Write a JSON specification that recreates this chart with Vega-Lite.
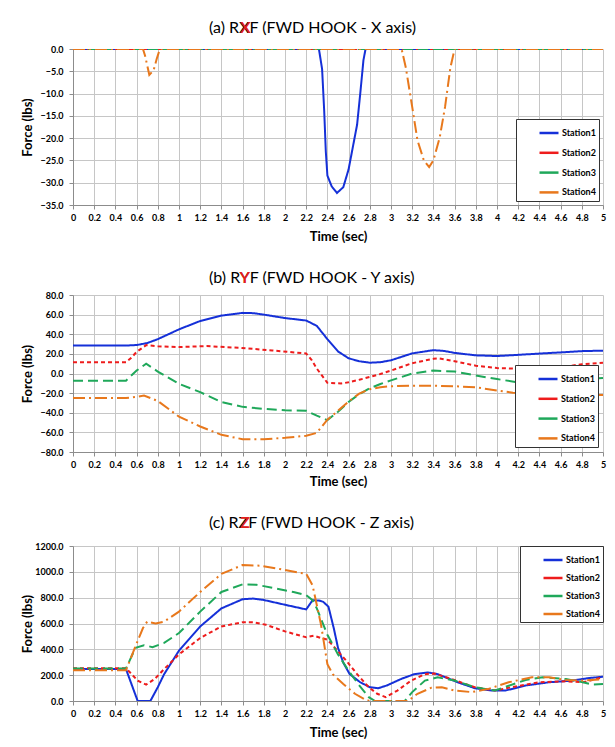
{
  "$schema": "https://vega.github.io/schema/vega-lite/v6.json",
  "background": "white",
  "padding": {"top": 20, "left": 21, "right": 4, "bottom": 0},
  "spacing": 27,
  "config": {
    "font": "Lato",
    "view": {"stroke": null},
    "title": {"font": "Lato", "fontSize": 16, "fontWeight": "normal", "color": "#000", "offset": 9, "anchor": "start", "frame": "bounds", "dx": 188,
              "subtitleColor": "#e3201b", "subtitleFont": "Lato", "subtitleFontSize": 16, "subtitleFontWeight": "bold", "subtitlePadding": -16},
    "axis": {
      "gridColor": "#c6c6c6", "gridWidth": 1, "domainColor": "#8c8c8c", "tickColor": "#8c8c8c", "tickSize": 4,
      "labelFont": "Lato", "labelFontSize": 9, "labelFontWeight": "bold", "labelColor": "#000",
      "titleFont": "Lato", "titleFontSize": 13, "titleFontWeight": "bold", "titleColor": "#000"
    },
    "legend": {
      "strokeColor": "#333", "fillColor": "white", "padding": 3,
      "symbolType": "stroke", "symbolSize": 361, "symbolStrokeWidth": 2.5,
      "labelFont": "Lato", "labelFontSize": 9, "labelFontWeight": "bold", "labelColor": "#000",
      "rowPadding": 3.8, "labelOffset": 2,
      "titleOrient": "left", "titleFontSize": 12, "titlePadding": 1, "titleFont": "Lato"
    }
  },
  "datasets": {
    "rxf": [
      {"s": "Station1", "t": 0, "f": 0}, {"s": "Station1", "t": 2.32, "f": 0}, {"s": "Station1", "t": 2.35, "f": -4.5}, {"s": "Station1", "t": 2.37, "f": -14}, {"s": "Station1", "t": 2.385, "f": -23}, {"s": "Station1", "t": 2.4, "f": -28.4}, {"s": "Station1", "t": 2.44, "f": -30.8}, {"s": "Station1", "t": 2.49, "f": -32.3}, {"s": "Station1", "t": 2.55, "f": -31}, {"s": "Station1", "t": 2.6, "f": -27}, {"s": "Station1", "t": 2.64, "f": -22}, {"s": "Station1", "t": 2.68, "f": -17}, {"s": "Station1", "t": 2.71, "f": -10}, {"s": "Station1", "t": 2.74, "f": -2.5}, {"s": "Station1", "t": 2.76, "f": 0}, {"s": "Station1", "t": 5, "f": 0},
      {"s": "Station2", "t": 0, "f": 0}, {"s": "Station2", "t": 5, "f": 0},
      {"s": "Station3", "t": 0, "f": 0}, {"s": "Station3", "t": 5, "f": 0},
      {"s": "Station4", "t": 0, "f": 0}, {"s": "Station4", "t": 0.66, "f": 0}, {"s": "Station4", "t": 0.68, "f": -1.5}, {"s": "Station4", "t": 0.72, "f": -5.8}, {"s": "Station4", "t": 0.76, "f": -4.8}, {"s": "Station4", "t": 0.79, "f": -2.2}, {"s": "Station4", "t": 0.82, "f": 0}, {"s": "Station4", "t": 3.1, "f": 0}, {"s": "Station4", "t": 3.14, "f": -4.2}, {"s": "Station4", "t": 3.2, "f": -13}, {"s": "Station4", "t": 3.25, "f": -20.5}, {"s": "Station4", "t": 3.31, "f": -25}, {"s": "Station4", "t": 3.36, "f": -26.5}, {"s": "Station4", "t": 3.4, "f": -25}, {"s": "Station4", "t": 3.46, "f": -19.8}, {"s": "Station4", "t": 3.51, "f": -13}, {"s": "Station4", "t": 3.56, "f": -4.2}, {"s": "Station4", "t": 3.6, "f": 0}, {"s": "Station4", "t": 5, "f": 0}
    ],
    "ryf": [
      {"s": "Station1", "t": 0, "f": 28.5}, {"s": "Station1", "t": 0.5, "f": 28.5}, {"s": "Station1", "t": 0.6, "f": 29}, {"s": "Station1", "t": 0.7, "f": 31}, {"s": "Station1", "t": 0.8, "f": 35}, {"s": "Station1", "t": 1.0, "f": 45}, {"s": "Station1", "t": 1.2, "f": 53.5}, {"s": "Station1", "t": 1.4, "f": 59}, {"s": "Station1", "t": 1.6, "f": 61.8}, {"s": "Station1", "t": 1.7, "f": 61.5}, {"s": "Station1", "t": 1.8, "f": 60}, {"s": "Station1", "t": 2.0, "f": 56.5}, {"s": "Station1", "t": 2.2, "f": 54}, {"s": "Station1", "t": 2.3, "f": 48.5}, {"s": "Station1", "t": 2.4, "f": 35}, {"s": "Station1", "t": 2.5, "f": 22.5}, {"s": "Station1", "t": 2.6, "f": 15.5}, {"s": "Station1", "t": 2.7, "f": 12.5}, {"s": "Station1", "t": 2.8, "f": 11}, {"s": "Station1", "t": 2.9, "f": 11.5}, {"s": "Station1", "t": 3.0, "f": 13.5}, {"s": "Station1", "t": 3.2, "f": 20.5}, {"s": "Station1", "t": 3.4, "f": 23.8}, {"s": "Station1", "t": 3.5, "f": 23}, {"s": "Station1", "t": 3.6, "f": 21}, {"s": "Station1", "t": 3.8, "f": 18.5}, {"s": "Station1", "t": 4.0, "f": 17.8}, {"s": "Station1", "t": 4.2, "f": 19}, {"s": "Station1", "t": 4.4, "f": 20.3}, {"s": "Station1", "t": 4.6, "f": 21.5}, {"s": "Station1", "t": 4.8, "f": 22.8}, {"s": "Station1", "t": 5.0, "f": 23.3},
      {"s": "Station2", "t": 0, "f": 11.5}, {"s": "Station2", "t": 0.5, "f": 11.5}, {"s": "Station2", "t": 0.55, "f": 16}, {"s": "Station2", "t": 0.6, "f": 22}, {"s": "Station2", "t": 0.69, "f": 28.9}, {"s": "Station2", "t": 0.8, "f": 27.8}, {"s": "Station2", "t": 1.0, "f": 26.9}, {"s": "Station2", "t": 1.26, "f": 27.9}, {"s": "Station2", "t": 1.57, "f": 26.2}, {"s": "Station2", "t": 1.88, "f": 23.5}, {"s": "Station2", "t": 2.2, "f": 20.4}, {"s": "Station2", "t": 2.25, "f": 14}, {"s": "Station2", "t": 2.3, "f": 5}, {"s": "Station2", "t": 2.4, "f": -9.5}, {"s": "Station2", "t": 2.53, "f": -10.2}, {"s": "Station2", "t": 2.6, "f": -9}, {"s": "Station2", "t": 2.71, "f": -6.1}, {"s": "Station2", "t": 2.8, "f": -3.5}, {"s": "Station2", "t": 2.9, "f": -0.5}, {"s": "Station2", "t": 3.0, "f": 3}, {"s": "Station2", "t": 3.2, "f": 10.5}, {"s": "Station2", "t": 3.4, "f": 15}, {"s": "Station2", "t": 3.45, "f": 15.4}, {"s": "Station2", "t": 3.6, "f": 12.5}, {"s": "Station2", "t": 3.8, "f": 8}, {"s": "Station2", "t": 4.0, "f": 5.5}, {"s": "Station2", "t": 4.2, "f": 5}, {"s": "Station2", "t": 4.4, "f": 5}, {"s": "Station2", "t": 4.6, "f": 6.5}, {"s": "Station2", "t": 4.8, "f": 9.4}, {"s": "Station2", "t": 5.0, "f": 11},
      {"s": "Station3", "t": 0, "f": -7.3}, {"s": "Station3", "t": 0.5, "f": -7.3}, {"s": "Station3", "t": 0.6, "f": 3}, {"s": "Station3", "t": 0.69, "f": 9.9}, {"s": "Station3", "t": 0.8, "f": 2}, {"s": "Station3", "t": 1.0, "f": -10.5}, {"s": "Station3", "t": 1.2, "f": -19}, {"s": "Station3", "t": 1.4, "f": -29}, {"s": "Station3", "t": 1.6, "f": -34}, {"s": "Station3", "t": 1.8, "f": -36}, {"s": "Station3", "t": 2.0, "f": -37.5}, {"s": "Station3", "t": 2.2, "f": -38}, {"s": "Station3", "t": 2.3, "f": -43}, {"s": "Station3", "t": 2.4, "f": -47.5}, {"s": "Station3", "t": 2.5, "f": -39}, {"s": "Station3", "t": 2.6, "f": -29}, {"s": "Station3", "t": 2.7, "f": -21}, {"s": "Station3", "t": 2.8, "f": -15}, {"s": "Station3", "t": 2.9, "f": -10.7}, {"s": "Station3", "t": 3.0, "f": -7}, {"s": "Station3", "t": 3.2, "f": 0}, {"s": "Station3", "t": 3.4, "f": 3}, {"s": "Station3", "t": 3.6, "f": 2}, {"s": "Station3", "t": 3.8, "f": -2}, {"s": "Station3", "t": 4.0, "f": -5.7}, {"s": "Station3", "t": 4.2, "f": -9}, {"s": "Station3", "t": 4.4, "f": -10}, {"s": "Station3", "t": 4.6, "f": -9}, {"s": "Station3", "t": 4.8, "f": -6}, {"s": "Station3", "t": 5.0, "f": -4.5},
      {"s": "Station4", "t": 0, "f": -25}, {"s": "Station4", "t": 0.5, "f": -25}, {"s": "Station4", "t": 0.6, "f": -23.8}, {"s": "Station4", "t": 0.67, "f": -22.4}, {"s": "Station4", "t": 0.8, "f": -28}, {"s": "Station4", "t": 1.0, "f": -44}, {"s": "Station4", "t": 1.2, "f": -54}, {"s": "Station4", "t": 1.4, "f": -62.5}, {"s": "Station4", "t": 1.6, "f": -67}, {"s": "Station4", "t": 1.8, "f": -67}, {"s": "Station4", "t": 2.0, "f": -65.5}, {"s": "Station4", "t": 2.2, "f": -63.5}, {"s": "Station4", "t": 2.3, "f": -60.5}, {"s": "Station4", "t": 2.4, "f": -47}, {"s": "Station4", "t": 2.5, "f": -38}, {"s": "Station4", "t": 2.6, "f": -28.5}, {"s": "Station4", "t": 2.7, "f": -20.5}, {"s": "Station4", "t": 2.8, "f": -16}, {"s": "Station4", "t": 2.9, "f": -14}, {"s": "Station4", "t": 3.0, "f": -13}, {"s": "Station4", "t": 3.2, "f": -12.5}, {"s": "Station4", "t": 3.4, "f": -12.5}, {"s": "Station4", "t": 3.6, "f": -13}, {"s": "Station4", "t": 3.8, "f": -14}, {"s": "Station4", "t": 4.0, "f": -17.4}, {"s": "Station4", "t": 4.15, "f": -19.5}, {"s": "Station4", "t": 4.4, "f": -21}, {"s": "Station4", "t": 4.6, "f": -22}, {"s": "Station4", "t": 4.8, "f": -22}, {"s": "Station4", "t": 5.0, "f": -22}
    ],
    "rzf": [
      {"s": "Station1", "t": 0, "f": 247}, {"s": "Station1", "t": 0.5, "f": 247}, {"s": "Station1", "t": 0.61, "f": 0}, {"s": "Station1", "t": 0.73, "f": 0}, {"s": "Station1", "t": 0.8, "f": 107}, {"s": "Station1", "t": 0.86, "f": 208}, {"s": "Station1", "t": 1.0, "f": 390}, {"s": "Station1", "t": 1.2, "f": 577}, {"s": "Station1", "t": 1.4, "f": 717}, {"s": "Station1", "t": 1.6, "f": 788}, {"s": "Station1", "t": 1.7, "f": 793}, {"s": "Station1", "t": 1.8, "f": 782}, {"s": "Station1", "t": 2.0, "f": 745}, {"s": "Station1", "t": 2.2, "f": 709}, {"s": "Station1", "t": 2.26, "f": 780}, {"s": "Station1", "t": 2.32, "f": 778}, {"s": "Station1", "t": 2.36, "f": 768}, {"s": "Station1", "t": 2.41, "f": 730}, {"s": "Station1", "t": 2.46, "f": 564}, {"s": "Station1", "t": 2.5, "f": 412}, {"s": "Station1", "t": 2.55, "f": 297}, {"s": "Station1", "t": 2.61, "f": 208}, {"s": "Station1", "t": 2.71, "f": 145}, {"s": "Station1", "t": 2.8, "f": 107}, {"s": "Station1", "t": 2.88, "f": 99}, {"s": "Station1", "t": 2.96, "f": 120}, {"s": "Station1", "t": 3.1, "f": 172}, {"s": "Station1", "t": 3.22, "f": 208}, {"s": "Station1", "t": 3.35, "f": 221}, {"s": "Station1", "t": 3.44, "f": 208}, {"s": "Station1", "t": 3.63, "f": 145}, {"s": "Station1", "t": 3.79, "f": 99}, {"s": "Station1", "t": 3.95, "f": 81}, {"s": "Station1", "t": 4.08, "f": 81}, {"s": "Station1", "t": 4.27, "f": 120}, {"s": "Station1", "t": 4.49, "f": 145}, {"s": "Station1", "t": 4.71, "f": 158}, {"s": "Station1", "t": 4.87, "f": 178}, {"s": "Station1", "t": 5.0, "f": 188},
      {"s": "Station2", "t": 0, "f": 254}, {"s": "Station2", "t": 0.5, "f": 254}, {"s": "Station2", "t": 0.61, "f": 158}, {"s": "Station2", "t": 0.69, "f": 127}, {"s": "Station2", "t": 0.77, "f": 170}, {"s": "Station2", "t": 0.86, "f": 247}, {"s": "Station2", "t": 1.0, "f": 361}, {"s": "Station2", "t": 1.2, "f": 488}, {"s": "Station2", "t": 1.4, "f": 577}, {"s": "Station2", "t": 1.6, "f": 610}, {"s": "Station2", "t": 1.7, "f": 610}, {"s": "Station2", "t": 1.82, "f": 590}, {"s": "Station2", "t": 2.0, "f": 539}, {"s": "Station2", "t": 2.2, "f": 493}, {"s": "Station2", "t": 2.27, "f": 506}, {"s": "Station2", "t": 2.34, "f": 488}, {"s": "Station2", "t": 2.4, "f": 475}, {"s": "Station2", "t": 2.5, "f": 386}, {"s": "Station2", "t": 2.58, "f": 310}, {"s": "Station2", "t": 2.68, "f": 208}, {"s": "Station2", "t": 2.79, "f": 107}, {"s": "Station2", "t": 2.87, "f": 56}, {"s": "Station2", "t": 2.95, "f": 30}, {"s": "Station2", "t": 3.06, "f": 81}, {"s": "Station2", "t": 3.19, "f": 158}, {"s": "Station2", "t": 3.32, "f": 208}, {"s": "Station2", "t": 3.41, "f": 213}, {"s": "Station2", "t": 3.57, "f": 170}, {"s": "Station2", "t": 3.79, "f": 107}, {"s": "Station2", "t": 3.98, "f": 81}, {"s": "Station2", "t": 4.14, "f": 107}, {"s": "Station2", "t": 4.4, "f": 145}, {"s": "Station2", "t": 4.65, "f": 153}, {"s": "Station2", "t": 4.81, "f": 145}, {"s": "Station2", "t": 5.0, "f": 183},
      {"s": "Station3", "t": 0, "f": 252}, {"s": "Station3", "t": 0.5, "f": 252}, {"s": "Station3", "t": 0.59, "f": 412}, {"s": "Station3", "t": 0.67, "f": 432}, {"s": "Station3", "t": 0.75, "f": 417}, {"s": "Station3", "t": 0.86, "f": 450}, {"s": "Station3", "t": 1.0, "f": 526}, {"s": "Station3", "t": 1.2, "f": 692}, {"s": "Station3", "t": 1.4, "f": 844}, {"s": "Station3", "t": 1.6, "f": 903}, {"s": "Station3", "t": 1.73, "f": 900}, {"s": "Station3", "t": 1.89, "f": 875}, {"s": "Station3", "t": 2.08, "f": 844}, {"s": "Station3", "t": 2.2, "f": 819}, {"s": "Station3", "t": 2.26, "f": 780}, {"s": "Station3", "t": 2.3, "f": 717}, {"s": "Station3", "t": 2.4, "f": 513}, {"s": "Station3", "t": 2.5, "f": 361}, {"s": "Station3", "t": 2.6, "f": 234}, {"s": "Station3", "t": 2.69, "f": 132}, {"s": "Station3", "t": 2.79, "f": 30}, {"s": "Station3", "t": 2.85, "f": 0}, {"s": "Station3", "t": 3.13, "f": 0}, {"s": "Station3", "t": 3.2, "f": 69}, {"s": "Station3", "t": 3.32, "f": 158}, {"s": "Station3", "t": 3.44, "f": 183}, {"s": "Station3", "t": 3.6, "f": 158}, {"s": "Station3", "t": 3.79, "f": 107}, {"s": "Station3", "t": 3.98, "f": 81}, {"s": "Station3", "t": 4.07, "f": 107}, {"s": "Station3", "t": 4.27, "f": 163}, {"s": "Station3", "t": 4.43, "f": 183}, {"s": "Station3", "t": 4.65, "f": 170}, {"s": "Station3", "t": 4.81, "f": 145}, {"s": "Station3", "t": 4.9, "f": 127}, {"s": "Station3", "t": 5.0, "f": 132},
      {"s": "Station4", "t": 0, "f": 239}, {"s": "Station4", "t": 0.5, "f": 239}, {"s": "Station4", "t": 0.59, "f": 425}, {"s": "Station4", "t": 0.66, "f": 565}, {"s": "Station4", "t": 0.7, "f": 615}, {"s": "Station4", "t": 0.78, "f": 600}, {"s": "Station4", "t": 0.86, "f": 615}, {"s": "Station4", "t": 1.0, "f": 692}, {"s": "Station4", "t": 1.2, "f": 844}, {"s": "Station4", "t": 1.4, "f": 984}, {"s": "Station4", "t": 1.6, "f": 1053}, {"s": "Station4", "t": 1.76, "f": 1048}, {"s": "Station4", "t": 1.95, "f": 1022}, {"s": "Station4", "t": 2.14, "f": 992}, {"s": "Station4", "t": 2.2, "f": 984}, {"s": "Station4", "t": 2.26, "f": 895}, {"s": "Station4", "t": 2.34, "f": 590}, {"s": "Station4", "t": 2.4, "f": 285}, {"s": "Station4", "t": 2.45, "f": 208}, {"s": "Station4", "t": 2.55, "f": 132}, {"s": "Station4", "t": 2.66, "f": 56}, {"s": "Station4", "t": 2.77, "f": 5}, {"s": "Station4", "t": 2.83, "f": 0}, {"s": "Station4", "t": 3.16, "f": 0}, {"s": "Station4", "t": 3.25, "f": 56}, {"s": "Station4", "t": 3.38, "f": 102}, {"s": "Station4", "t": 3.48, "f": 107}, {"s": "Station4", "t": 3.6, "f": 81}, {"s": "Station4", "t": 3.76, "f": 69}, {"s": "Station4", "t": 3.92, "f": 94}, {"s": "Station4", "t": 4.11, "f": 145}, {"s": "Station4", "t": 4.33, "f": 183}, {"s": "Station4", "t": 4.49, "f": 183}, {"s": "Station4", "t": 4.65, "f": 163}, {"s": "Station4", "t": 4.81, "f": 158}, {"s": "Station4", "t": 5.0, "f": 168}
    ]
  },
  "vconcat": [
    {
      "title": {"text": "(a) RXF (FWD HOOK - X axis)", "subtitle": "\u2060\u00a0\u00a0\u00a0\u00a0\u00a0\u00a0\u00a0\u00a0X"},
      "width": 530, "height": 156,
      "data": {"name": "rxf"},
      "mark": {"type": "line", "strokeWidth": 2, "clip": true},
      "encoding": {
        "x": {"field": "t", "type": "quantitative", "scale": {"domain": [0, 5], "nice": false},
              "axis": {"title": "Time (sec)", "values": [0,0.2,0.4,0.6,0.8,1,1.2,1.4,1.6,1.8,2,2.2,2.4,2.6,2.8,3,3.2,3.4,3.6,3.8,4,4.2,4.4,4.6,4.8,5], "format": "~g", "labelPadding": 4, "titlePadding": 8, "labelFlush": false}},
        "y": {"field": "f", "type": "quantitative", "scale": {"domain": [-35, 0], "nice": false},
              "axis": {"title": "Force (lbs)", "values": [0,-5,-10,-15,-20,-25,-30,-35], "format": ".1f", "labelPadding": 6, "titleX": -39, "labelFlush": false}},
        "color": {"field": "s", "type": "nominal", "scale": {"domain": ["Station1","Station2","Station3","Station4"], "range": ["#1530d8","#ee1c1c","#1fa85a","#e8781c"]},
                  "legend": {"orient": "bottom-right", "offset": 4, "title": "\u2060\u00a0\u00a0\u00a0\u00a0\u00a0\u00a0\u2060"}},
        "strokeDash": {"field": "s", "type": "nominal", "scale": {"domain": ["Station1","Station2","Station3","Station4"], "range": [[1,0],[4,3],[10,5],[12,4,2,4]]}},
        "order": {"field": "t", "type": "quantitative"}
      }
    },
    {
      "title": {"text": "(b) RYF (FWD HOOK - Y axis)", "subtitle": "\u2060\u00a0\u00a0\u00a0\u00a0\u00a0\u00a0\u00a0\u00a0Y", "offset": 5},
      "width": 530, "height": 157,
      "data": {"name": "ryf"},
      "mark": {"type": "line", "strokeWidth": 2, "clip": true},
      "encoding": {
        "x": {"field": "t", "type": "quantitative", "scale": {"domain": [0, 5], "nice": false},
              "axis": {"title": "Time (sec)", "values": [0,0.2,0.4,0.6,0.8,1,1.2,1.4,1.6,1.8,2,2.2,2.4,2.6,2.8,3,3.2,3.4,3.6,3.8,4,4.2,4.4,4.6,4.8,5], "format": "~g", "labelPadding": 4, "titlePadding": 6, "labelFlush": false}},
        "y": {"field": "f", "type": "quantitative", "scale": {"domain": [-80, 80], "nice": false},
              "axis": {"title": "Force (lbs)", "values": [80,60,40,20,0,-20,-40,-60,-80], "format": ".1f", "labelPadding": 6, "titleX": -39, "labelFlush": false}},
        "color": {"field": "s", "type": "nominal", "scale": {"domain": ["Station1","Station2","Station3","Station4"], "range": ["#1530d8","#ee1c1c","#1fa85a","#e8781c"]},
                  "legend": {"orient": "bottom-right", "offset": 5, "title": "\u2060\u00a0\u00a0\u00a0\u00a0\u00a0\u00a0\u2060"}},
        "strokeDash": {"field": "s", "type": "nominal", "scale": {"domain": ["Station1","Station2","Station3","Station4"], "range": [[1,0],[4,3],[10,5],[12,4,2,4]]}},
        "order": {"field": "t", "type": "quantitative"}
      }
    },
    {
      "title": {"text": "(c) RZF (FWD HOOK - Z axis)", "subtitle": "\u2060\u00a0\u00a0\u00a0\u00a0\u00a0\u00a0\u00a0\u00a0Z", "offset": 11},
      "width": 530, "height": 155,
      "data": {"name": "rzf"},
      "mark": {"type": "line", "strokeWidth": 2, "clip": true},
      "encoding": {
        "x": {"field": "t", "type": "quantitative", "scale": {"domain": [0, 5], "nice": false},
              "axis": {"title": "Time (sec)", "values": [0,0.2,0.4,0.6,0.8,1,1.2,1.4,1.6,1.8,2,2.2,2.4,2.6,2.8,3,3.2,3.4,3.6,3.8,4,4.2,4.4,4.6,4.8,5], "format": "~g", "labelPadding": 4, "titlePadding": 8, "labelFlush": false}},
        "y": {"field": "f", "type": "quantitative", "scale": {"domain": [0, 1200], "nice": false},
              "axis": {"title": "Force (lbs)", "values": [0,200,400,600,800,1000,1200], "format": ".1f", "labelPadding": 6, "titleX": -39, "labelFlush": false}},
        "color": {"field": "s", "type": "nominal", "scale": {"domain": ["Station1","Station2","Station3","Station4"], "range": ["#1530d8","#ee1c1c","#1fa85a","#e8781c"]},
                  "legend": {"orient": "top-right", "offset": 0, "rowPadding": 2, "title": "\u2060\u00a0\u00a0\u00a0\u00a0\u00a0\u00a0\u2060"}},
        "strokeDash": {"field": "s", "type": "nominal", "scale": {"domain": ["Station1","Station2","Station3","Station4"], "range": [[1,0],[4,3],[10,5],[12,4,2,4]]}},
        "order": {"field": "t", "type": "quantitative"}
      }
    }
  ]
}
